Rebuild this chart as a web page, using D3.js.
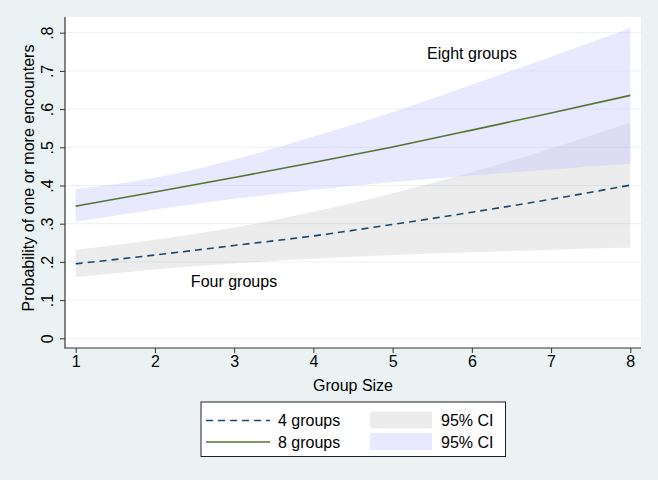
<!DOCTYPE html>
<html>
<head>
<meta charset="utf-8">
<script src="https://cdn.jsdelivr.net/npm/d3@7"></script>
<style>
  html, body { margin: 0; padding: 0; background: #EAF2F3; }
  svg { display: block; font-family: "Liberation Sans", Arial, sans-serif; }
</style>
</head>
<body>
<svg id="chart" width="658" height="480"></svg>
<script>
const groupSize = [1, 2, 3, 4, 5, 6, 7, 8];
const fourGroups = [0.195, 0.218, 0.243, 0.268, 0.298, 0.330, 0.364, 0.401];
const fourLo     = [0.160, 0.180, 0.196, 0.208, 0.218, 0.225, 0.232, 0.238];
const fourHi     = [0.232, 0.258, 0.290, 0.331, 0.380, 0.435, 0.497, 0.565];
const eightGroups = [0.346, 0.383, 0.421, 0.460, 0.501, 0.545, 0.590, 0.636];
const eightLo     = [0.305, 0.337, 0.365, 0.389, 0.409, 0.426, 0.442, 0.457];
const eightHi     = [0.390, 0.420, 0.468, 0.528, 0.592, 0.664, 0.737, 0.812];
const yTicks = [0, 0.1, 0.2, 0.3, 0.4, 0.5, 0.6, 0.7, 0.8];
const yTickLabels = ["0", ".1", ".2", ".3", ".4", ".5", ".6", ".7", ".8"];
const xTicks = [1, 2, 3, 4, 5, 6, 7, 8];
const legendLines = ["4 groups", "8 groups"];
const legendCI = ["95% CI", "95% CI"];

const svg = d3.select("#chart");
const plot = {left: 65, right: 641, top: 17, bottom: 348};
const x = d3.scaleLinear().domain([1, 8]).range([75.7, 630.3]);
const y = d3.scaleLinear().domain([0, 0.8]).range([338.3, 32.7]);

const colFour = "#1a476f", colEight = "#55752f";
const grayFill = "rgba(0,0,0,0.075)";
const blueFill = "rgba(190,190,255,0.36)";

svg.append("rect").attr("width", 658).attr("height", 480).attr("fill", "#EAF2F3");
svg.append("rect").attr("x", plot.left).attr("y", plot.top)
  .attr("width", plot.right - plot.left).attr("height", plot.bottom - plot.top).attr("fill", "#fff");

// gridlines
svg.append("g").selectAll("line").data(yTicks).join("line")
  .attr("x1", plot.left).attr("x2", plot.right)
  .attr("y1", d => y(d)).attr("y2", d => y(d))
  .attr("stroke", "#EAF2F3").attr("stroke-width", 1);

const rows4 = groupSize.map((g, i) => ({g, v: fourGroups[i], lo: fourLo[i], hi: fourHi[i]}));
const rows8 = groupSize.map((g, i) => ({g, v: eightGroups[i], lo: eightLo[i], hi: eightHi[i]}));

const area = d3.area().x(d => x(d.g)).y0(d => y(d.lo)).y1(d => y(d.hi)).curve(d3.curveMonotoneX);
const line = d3.line().x(d => x(d.g)).y(d => y(d.v)).curve(d3.curveMonotoneX);

svg.append("path").datum(rows4).attr("d", area).attr("fill", grayFill);
svg.append("path").datum(rows8).attr("d", area).attr("fill", blueFill);

svg.append("path").datum(rows4).attr("d", line).attr("fill", "none")
  .attr("stroke", colFour).attr("stroke-width", 1.6).attr("stroke-dasharray", "7,5");
svg.append("path").datum(rows8).attr("d", line).attr("fill", "none")
  .attr("stroke", colEight).attr("stroke-width", 1.6);

// axes
const yAxis = d3.axisLeft(y).tickValues(yTicks).tickSize(5).tickFormat((d, i) => yTickLabels[i]);
const gy = svg.append("g").attr("transform", `translate(${plot.left},0)`).call(yAxis);
gy.select(".domain").remove();
gy.selectAll(".tick line").attr("stroke", "#333");
gy.selectAll(".tick text").remove();
gy.selectAll(".tick").append("text")
  .attr("transform", "translate(-12,0) rotate(-90)")
  .attr("text-anchor", "middle").attr("dy", "0em")
  .attr("fill", "#000").attr("font-size", 16)
  .text((d, i) => yTickLabels[i]);

const xAxis = d3.axisBottom(x).tickValues(xTicks).tickSize(5).tickFormat(d3.format("d"));
const gx = svg.append("g").attr("transform", `translate(0,${plot.bottom})`).call(xAxis);
gx.select(".domain").remove();
gx.selectAll(".tick line").attr("stroke", "#333");
gx.selectAll(".tick text").attr("font-size", 16).attr("fill", "#000").attr("y", 8).attr("dy", "0.71em");

svg.append("line").attr("x1", plot.left).attr("x2", plot.left).attr("y1", plot.top).attr("y2", plot.bottom + 0.5)
  .attr("stroke", "#333").attr("stroke-width", 1.2);
svg.append("line").attr("x1", plot.left).attr("x2", plot.right).attr("y1", plot.bottom).attr("y2", plot.bottom)
  .attr("stroke", "#333").attr("stroke-width", 1.2);

// axis titles
svg.append("text").attr("x", 353).attr("y", 391).attr("text-anchor", "middle")
  .attr("font-size", 16).attr("fill", "#000").text("Group Size");
svg.append("text").attr("transform", "translate(34,178) rotate(-90)").attr("text-anchor", "middle")
  .attr("font-size", 16).attr("fill", "#000").text("Probability of one or more encounters");

// annotations
svg.append("text").attr("x", 472).attr("y", 59).attr("text-anchor", "middle")
  .attr("font-size", 16).attr("fill", "#000").text("Eight groups");
svg.append("text").attr("x", 234).attr("y", 287).attr("text-anchor", "middle")
  .attr("font-size", 16).attr("fill", "#000").text("Four groups");

// legend
const lg = svg.append("g");
lg.append("rect").attr("x", 201).attr("y", 402).attr("width", 304.5).attr("height", 54.5)
  .attr("fill", "#fff").attr("stroke", "#222").attr("stroke-width", 1);
const rowY = [420.5, 442];
lg.append("line").attr("x1", 206).attr("x2", 270).attr("y1", rowY[0]).attr("y2", rowY[0])
  .attr("stroke", colFour).attr("stroke-width", 1.6).attr("stroke-dasharray", "7,5");
lg.append("line").attr("x1", 206).attr("x2", 270).attr("y1", rowY[1]).attr("y2", rowY[1])
  .attr("stroke", colEight).attr("stroke-width", 1.6);
lg.selectAll("text.lab").data(legendLines).join("text").attr("class", "lab")
  .attr("x", 278).attr("y", (d, i) => rowY[i] + 5.5)
  .attr("font-size", 16).attr("fill", "#000").text(d => d);
lg.append("rect").attr("x", 370).attr("y", rowY[0] - 9).attr("width", 62).attr("height", 17).attr("fill", grayFill);
lg.append("rect").attr("x", 370).attr("y", rowY[1] - 9).attr("width", 62).attr("height", 17).attr("fill", blueFill);
lg.selectAll("text.ci").data(legendCI).join("text").attr("class", "ci")
  .attr("x", 441).attr("y", (d, i) => rowY[i] + 5.5)
  .attr("font-size", 16).attr("fill", "#000").text(d => d);
</script>
</body>
</html>
